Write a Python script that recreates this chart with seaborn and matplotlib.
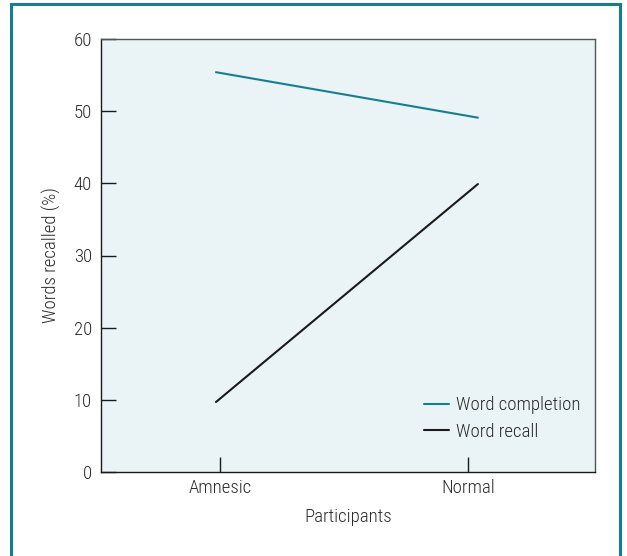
import matplotlib
matplotlib.use("Agg")
import matplotlib.pyplot as plt
from matplotlib.patches import Rectangle
import pandas as pd
import seaborn as sns

# Data
participants = ["Amnesic", "Normal"]
word_completion = [55.4, 49.1]
word_recall = [9.7, 39.9]
series_names = ["Word completion", "Word recall"]
y_ticks = [0, 10, 20, 30, 40, 50, 60]

TEAL = "#13808F"
BLACK = "#1a1a1a"
TEXT = "#2b2b2b"
FS = 13.5

sns.set_theme(style="white")
plt.rcParams["font.family"] = ["Roboto Condensed", "DejaVu Sans"]
plt.rcParams["font.weight"] = 300
plt.rcParams["axes.labelweight"] = 300

rows = []
for name, vals in zip(series_names, [word_completion, word_recall]):
    for i, (p, v) in enumerate(zip(participants, vals)):
        rows.append({"pos": i, "Participants": p, "value": v, "series": name})
df = pd.DataFrame(rows)

fig = plt.figure(figsize=(6.27, 5.56), dpi=100)
ax = fig.add_axes([101 / 627, 84 / 556, 494 / 627, 433 / 556])
ax.set_facecolor("#EAF3F6")

sns.lineplot(data=df, x="pos", y="value", hue="series",
             palette={"Word completion": TEAL, "Word recall": BLACK},
             linewidth=1.5, ax=ax, legend=True)

ax.set_ylim(0, 60)
ax.set_xlim(-0.439, 1.447)
ax.set_yticks(y_ticks)
ax.set_xticks([0.015, 0.962])
ax.set_xticklabels(participants)

ax.tick_params(axis="both", direction="in", length=11, width=1, color=BLACK,
               labelsize=FS, labelcolor=TEXT)
ax.tick_params(axis="y", pad=6.5, left=True)
ax.tick_params(axis="x", pad=5, bottom=True)

ax.set_xlabel("Participants", fontsize=FS, color=TEXT, labelpad=8,
              fontweight=300)
ax.set_ylabel("Words recalled (%)", fontsize=FS, color=TEXT, labelpad=9,
              fontweight=300)

for side in ["left", "bottom"]:
    ax.spines[side].set_color(BLACK)
    ax.spines[side].set_linewidth(1.0)
for side in ["top", "right"]:
    ax.spines[side].set_color("#555555")
    ax.spines[side].set_linewidth(1.0)
for s in ax.spines.values():
    s.set_visible(True)

leg = ax.legend(loc="lower right", bbox_to_anchor=(0.985, 0.055), frameon=False,
                fontsize=FS, handlelength=1.35, handletextpad=0.35,
                labelspacing=0.45, borderaxespad=0)
for t in leg.get_texts():
    t.set_color(TEXT)

# Teal frame around the figure
fig.patches.append(Rectangle((11 / 627, -0.05), 609 / 627, 1.05 - 4 / 556,
                             transform=fig.transFigure, fill=False,
                             edgecolor=TEAL, linewidth=2.2))

fig.savefig("out.png", dpi=100)
